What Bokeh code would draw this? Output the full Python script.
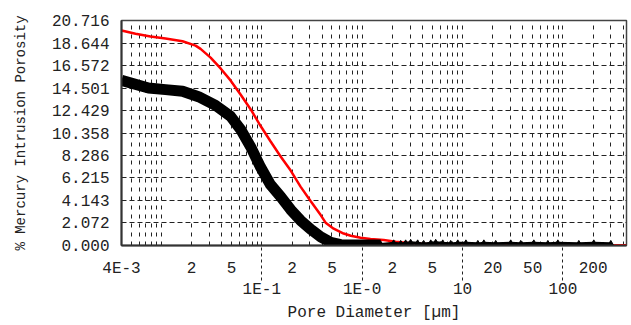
from bokeh.plotting import figure
from bokeh.models import FixedTicker, LogAxis, Range1d, PrintfTickFormatter
from bokeh.embed import file_html
from bokeh.resources import INLINE

# ---------------- data ----------------
red_x = [0.004, 0.00552, 0.00778, 0.01098, 0.01622, 0.02188, 0.02453, 0.03088, 0.03885,
         0.0488, 0.0614, 0.0773, 0.0973, 0.122, 0.154, 0.194, 0.244, 0.306, 0.386,
         0.432, 0.520, 0.654, 0.77, 0.965, 1.21, 1.64, 2.16, 3.04, 4.82, 9.6, 24.0,
         95.3, 430.0]
red_y = [19.8, 19.5, 19.25, 19.05, 18.8, 18.4, 18.1, 17.3, 16.3,
         15.2, 13.9, 12.55, 11.0, 9.6, 8.2, 6.9, 5.4, 4.1, 2.8,
         2.1, 1.55, 1.1, 0.9, 0.72, 0.6, 0.5, 0.35, 0.2, 0.12, 0.08, 0.05,
         0.03, 0.02]

black_x = [0.004, 0.00743, 0.01098, 0.01622, 0.0234, 0.0346, 0.0488, 0.0614, 0.0773,
           0.0973, 0.122, 0.154, 0.194, 0.244, 0.306, 0.386, 0.485, 0.61, 0.77, 1.09, 1.53]
black_y = [15.2, 14.5, 14.35, 14.2, 13.7, 12.9, 11.9, 10.7, 9.1,
           7.2, 5.6, 4.5, 3.3, 2.3, 1.5, 0.8, 0.3, 0.08, 0.05, 0.05, 0.05]

black_tail_x = [1.53, 2.06, 2.42, 2.71, 3.04, 3.57, 4.10, 4.82, 5.40, 6.35, 7.62, 8.96,
                10.8, 14.2, 16.3, 21.4, 30.2, 38.0, 51.3, 70.8, 89.0, 144.0, 203.0, 300.0]
black_tail_y = [0.1, 0.2, 0.15, 0.2, 0.25, 0.2, 0.15, 0.2, 0.25, 0.2, 0.15, 0.2,
                0.2, 0.15, 0.2, 0.15, 0.2, 0.15, 0.2, 0.15, 0.2, 0.15, 0.2, 0.15]

y_ticks = [0.0, 2.072, 4.143, 6.215, 8.286, 10.358, 12.429, 14.501, 16.572, 18.644, 20.716]

x_row1_ticks = [0.004, 0.02, 0.05, 0.2, 0.5, 2, 5, 20, 50, 200]
x_row1_labels = ["4E-3", "2", "5", "2", "5", "2", "5", "20", "50", "200"]
x_decade_ticks = [0.1, 1, 10, 100]
x_decade_labels = ["1E-1", "1E-0", "10", "100"]

x_grid = [m * d for d in (0.001, 0.01, 0.1, 1, 10, 100) for m in range(1, 10)]
x_grid = [g for g in x_grid if 0.004 < g < 430]

FONT = "Liberation Mono"
TXT = "#222222"

p = figure(width=631, height=325, x_axis_type="log",
           x_range=Range1d(0.004, 430), y_range=Range1d(0, 20.716),
           output_backend="svg", toolbar_location=None,
           min_border_left=121, min_border_right=5, min_border_top=20,
           min_border_bottom=80, background_fill_color="white",
           border_fill_color="white")

p.outline_line_color = "#444444"
p.outline_line_width = 1.5

# grids
p.xgrid.ticker = FixedTicker(ticks=x_grid)
p.xgrid.grid_line_color = "#222222"
p.xgrid.grid_line_dash = "4 5"
p.xgrid.grid_line_width = 1
p.ygrid.ticker = FixedTicker(ticks=y_ticks)
p.ygrid.grid_line_color = "#222222"
p.ygrid.grid_line_dash = "5 3"
p.ygrid.grid_line_width = 1

# y axis
ya = p.yaxis[0]
ya.ticker = FixedTicker(ticks=y_ticks)
ya.formatter = PrintfTickFormatter(format="%.3f")
ya.major_tick_out = 0
ya.major_tick_in = 0
ya.minor_tick_out = 0
ya.minor_tick_in = 0
ya.major_label_standoff = 12
ya.major_label_text_font = FONT
ya.major_label_text_font_size = "16px"
ya.major_label_text_color = TXT
ya.axis_line_color = "#333333"
ya.axis_line_width = 2
ya.axis_label = "% Mercury Intrusion Porosity"
ya.axis_label_text_font = FONT
ya.axis_label_text_font_size = "14px"
ya.axis_label_text_font_style = "normal"
ya.axis_label_text_color = TXT
ya.axis_label_standoff = 20

# x axis row 1
xa = p.xaxis[0]
xa.ticker = FixedTicker(ticks=x_row1_ticks)
xa.major_label_overrides = {t: l for t, l in zip(x_row1_ticks, x_row1_labels)}
xa.major_tick_out = 0
xa.major_tick_in = 0
xa.minor_tick_out = 0
xa.minor_tick_in = 0
xa.major_label_standoff = 14
xa.major_label_text_font = FONT
xa.major_label_text_font_size = "16px"
xa.major_label_text_color = TXT
xa.axis_line_color = "#333333"
xa.axis_line_width = 2

# x axis row 2 (decades) + title; decade ticks reach up to the frame
xb = LogAxis(ticker=FixedTicker(ticks=x_decade_ticks),
             major_label_overrides={t: l for t, l in zip(x_decade_ticks, x_decade_labels)})
xb.axis_line_color = None
xb.major_tick_out = 0
xb.major_tick_in = 35
xb.major_tick_line_dash = "3 3"
xb.major_tick_line_color = "#222222"
xb.major_tick_line_width = 1
xb.minor_tick_out = 0
xb.minor_tick_in = 0
xb.major_label_standoff = 0
xb.major_label_text_font = FONT
xb.major_label_text_font_size = "16px"
xb.major_label_text_color = TXT
xb.axis_label = "Pore Diameter [µm]"
xb.axis_label_text_font = FONT
xb.axis_label_text_font_size = "16px"
xb.axis_label_text_font_style = "normal"
xb.axis_label_text_color = TXT
xb.axis_label_standoff = 2
p.add_layout(xb, "below")

# data
p.line(red_x, red_y, line_color="#ff0000", line_width=2.5)
p.line(black_x, black_y, line_color="black", line_width=11, line_join="round")
p.line(black_tail_x, black_tail_y, line_color="black", line_width=3)
p.scatter(black_tail_x, black_tail_y, marker="triangle", size=6,
          fill_color="black", line_color="black")

open("out.html", "w").write(file_html(p, INLINE))
